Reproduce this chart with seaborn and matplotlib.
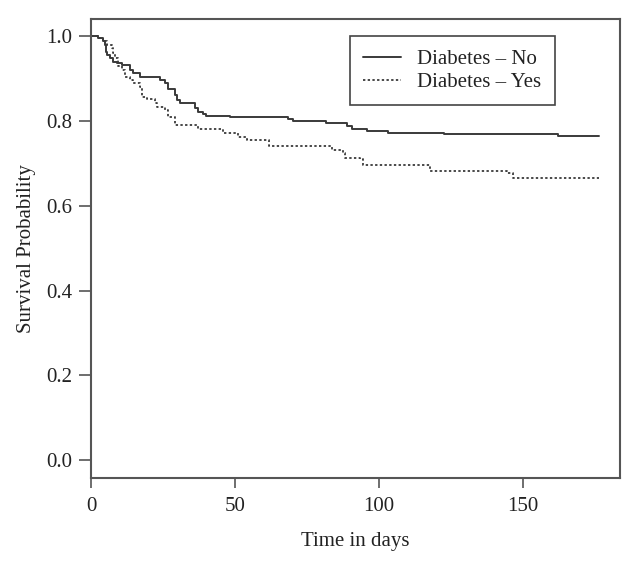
import matplotlib
matplotlib.use('Agg')
import matplotlib.pyplot as plt
from matplotlib.lines import Line2D
import seaborn as sns
import pandas as pd

# Kaplan-Meier step points (time in days, survival)
no_time = [0, 2.5, 4, 4.8, 5.2, 5.7, 6.6, 7.7, 8.9, 10.6, 13.5, 14.7, 17, 18.8,
           24, 25.7, 26.8, 29.2, 29.7, 30.9, 36.1, 37.3, 39, 40.1, 48.3, 68.5,
           70.3, 81.6, 88.8, 90.8, 96, 103.2, 122.7, 162.3, 176.5]
no_surv = [1.0, 0.996, 0.99, 0.98, 0.964, 0.956, 0.948, 0.94, 0.937, 0.933, 0.92,
           0.913, 0.905, 0.905, 0.897, 0.889, 0.877, 0.862, 0.85, 0.842, 0.83,
           0.822, 0.818, 0.812, 0.809, 0.805, 0.801, 0.795, 0.789, 0.781, 0.777,
           0.772, 0.769, 0.764, 0.764]

yes_time = [0, 2.5, 4, 5.4, 7.2, 7.8, 8.3, 9.5, 10.6, 11.8, 13.5, 14.7, 17, 17.6,
            19.4, 22.2, 22.8, 25.7, 26.8, 29.2, 37.3, 45.9, 51.1, 54, 61.9, 83.6,
            87.6, 88.2, 93.4, 94.6, 117.7, 144.3, 146.6, 176.5]
yes_surv = [1.0, 0.996, 0.99, 0.98, 0.972, 0.96, 0.948, 0.929, 0.921, 0.905, 0.897,
            0.889, 0.881, 0.858, 0.852, 0.842, 0.833, 0.826, 0.81, 0.791, 0.781,
            0.771, 0.762, 0.755, 0.741, 0.733, 0.724, 0.714, 0.71, 0.696, 0.683,
            0.678, 0.667, 0.667]

groups = ['Diabetes \u2013 No', 'Diabetes \u2013 Yes']

df = pd.concat([
    pd.DataFrame({'time': no_time, 'surv': no_surv, 'group': groups[0]}),
    pd.DataFrame({'time': yes_time, 'surv': yes_surv, 'group': groups[1]}),
])

sns.set_style('ticks')
plt.rcParams['font.family'] = ['Liberation Serif', 'DejaVu Serif']

fig, ax = plt.subplots(figsize=(6.42, 5.64), dpi=100)
fig.subplots_adjust(left=91/642, right=620/642, bottom=1-478/564, top=1-19/564)

line_color = '#3a3a3a'
text_color = '#222222'
styles = {groups[0]: '-', groups[1]: (0, (1.3, 1.3))}
widths = {groups[0]: 1.4, groups[1]: 1.3}

for g in groups:
    sub = df[df['group'] == g]
    sns.lineplot(data=sub, x='time', y='surv', ax=ax, estimator=None,
                 drawstyle='steps-post', color=line_color,
                 linestyle=styles[g], linewidth=widths[g], legend=False)

ax.set_xlim(0, 183.7)
ax.set_ylim(-0.042, 1.041)
ax.set_xticks([0, 50, 100, 150])
ax.set_yticks([0.0, 0.2, 0.4, 0.6, 0.8, 1.0])
ax.set_yticklabels(['0.0', '0.2', '0.4', '0.6', '0.8', '1.0'])
ax.tick_params(axis='both', labelsize=15, width=1.2, color='#555555',
               labelcolor=text_color)
ax.tick_params(axis='x', length=7.5, pad=6)
ax.tick_params(axis='y', length=8.5, pad=5)

for s in ax.spines.values():
    s.set_visible(True)
    s.set_color('#555555')
    s.set_linewidth(1.5)

ax.set_xlabel('Time in days', fontsize=15, color=text_color, labelpad=12)
ax.set_ylabel('Survival Probability', fontsize=15, color=text_color, labelpad=7)

handles = [Line2D([], [], color=line_color, linestyle=styles[g], linewidth=widths[g])
           for g in groups]
leg = ax.legend(handles, groups, loc='upper right', bbox_to_anchor=(0.877, 0.963),
                borderaxespad=0, fontsize=15, frameon=True, fancybox=False,
                framealpha=1, edgecolor='#444444', borderpad=0.65,
                handlelength=1.8, handletextpad=0.8, labelspacing=0.15)
leg.get_frame().set_linewidth(1.2)
for t in leg.get_texts():
    t.set_color(text_color)

fig.savefig('out.png', dpi=100)
